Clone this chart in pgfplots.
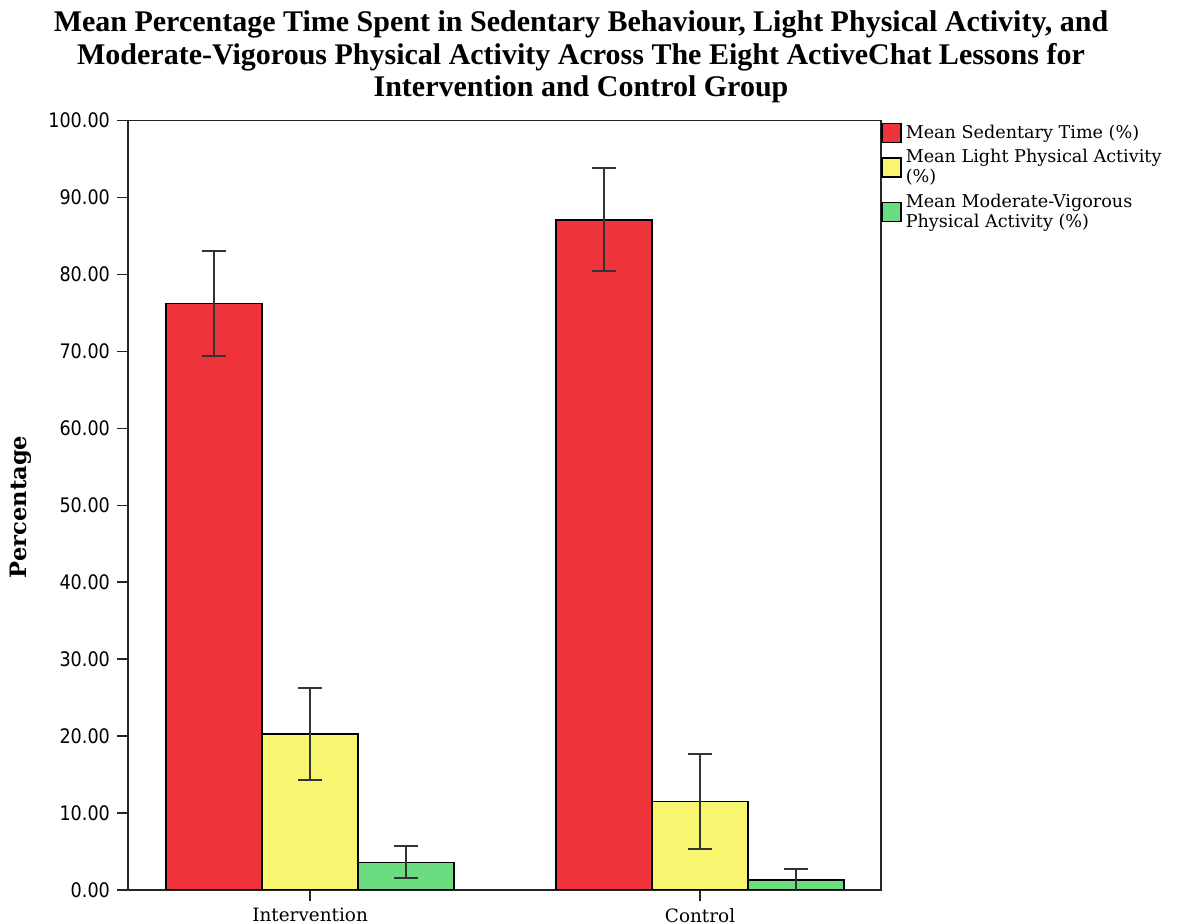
\documentclass[border=0pt]{standalone}
\usepackage{fontspec}
\setmainfont{Liberation Serif}
\newfontfamily\tickfont{DejaVu Sans}[FakeStretch=0.88]
\newfontfamily\legfont{DejaVu Serif}
\usepackage{pgfplots}
\pgfplotsset{compat=1.18}
\definecolor{cred}{RGB}{239,51,58}
\definecolor{cyel}{RGB}{248,245,112}
\definecolor{cgrn}{RGB}{108,220,128}
\pgfplotsset{
  legbox/.style={legend image code/.code={\draw[##1, line width=0.7pt] (0pt,-4.75pt) rectangle (9.5pt,4.75pt);}},
  ebars/.style={error bars/.cd, y dir=both, y explicit,
     error bar style={line width=1pt, black!80},
     error mark options={rotate=90, mark size=6pt, line width=1pt, black!80}},
}
\begin{document}
\begin{tikzpicture}
\useasboundingbox (0,0) rectangle (589.5pt,462pt);
\node[align=center, font=\bfseries\fontsize{15}{16.3}\selectfont] at (290.5pt,433.5pt)
  {Mean Percentage Time Spent in Sedentary Behaviour, Light Physical Activity, and\\
   Moderate-Vigorous Physical Activity Across The Eight ActiveChat Lessons for\\
   Intervention and Control Group};
\node[rotate=90, font=\legfont\bfseries\fontsize{11.3}{13}\selectfont] at (10.5pt,208.5pt) {Percentage};
\begin{axis}[
  at={(64pt,17pt)}, anchor=south west,
  scale only axis, width=376.5pt, height=384.65pt,
  ybar=0pt, bar width=48pt,
  xmin=-0.467, xmax=1.464, ymin=0, ymax=100,
  xtick={0,1}, xticklabels={Intervention,Control},
  ytick={0,10,...,100},
  tick align=outside, tick pos=left,
  major tick length=5.5pt,
  axis line style={line width=0.8pt, black!85},
  tick style={line width=0.8pt, black!85},
  xticklabel style={font=\legfont\fontsize{9.2}{10}\selectfont},
  yticklabel style={font=\tickfont\fontsize{10}{12}\selectfont,
     /pgf/number format/fixed, /pgf/number format/fixed zerofill,
     /pgf/number format/precision=2, /pgf/number format/assume math mode=true},
  legend style={at={(1,1)}, anchor=north west, draw=none, fill=none,
     inner xsep=0pt, inner ysep=0pt, row sep=0pt,
     font=\legfont\fontsize{8.8}{10}\selectfont,
     cells={anchor=west, align=left}},
]
\addplot[fill=cred, draw=black, line width=0.7pt, legbox, ebars]
  coordinates {(0,76.2) +- (0,6.8) (1,87.1) +- (0,6.7)};
\addlegendentry{Mean Sedentary Time (\%)}
\addplot[fill=cyel, draw=black, line width=0.7pt, legbox, ebars]
  coordinates {(0,20.3) +- (0,6.0) (1,11.5) +- (0,6.2)};
\addlegendentry{Mean Light Physical Activity\\(\%)}
\addplot[fill=cgrn, draw=black, line width=0.7pt, legbox, ebars]
  coordinates {(0,3.6) +- (0,2.1) (1,1.3) +- (0,1.4)};
\addlegendentry{Mean Moderate-Vigorous\\Physical Activity (\%)}
\end{axis}
\end{tikzpicture}
\end{document}
